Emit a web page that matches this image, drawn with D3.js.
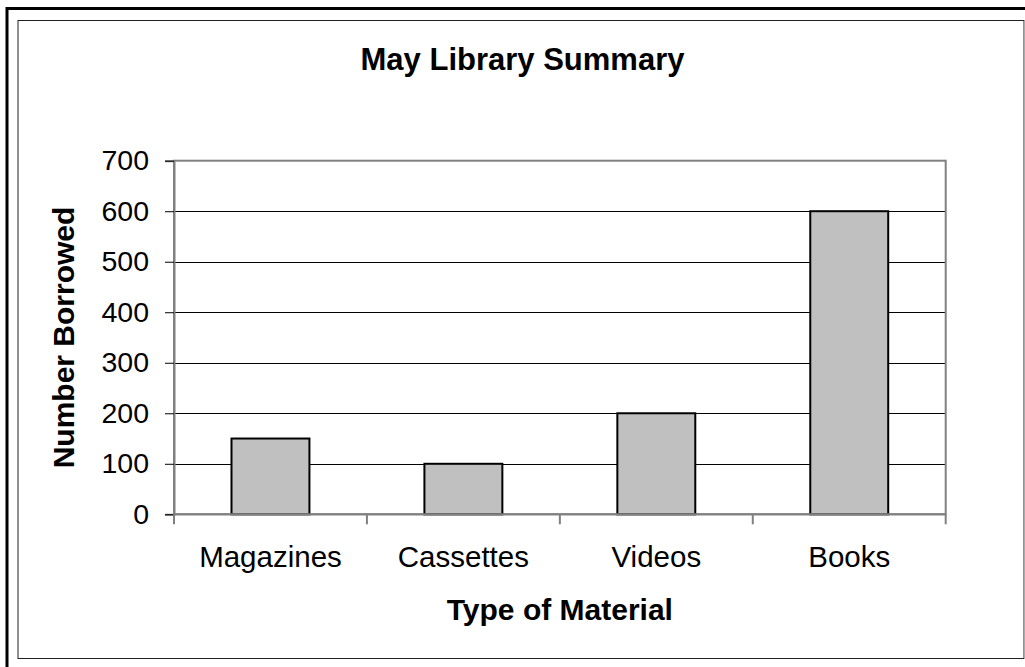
<!DOCTYPE html>
<html>
<head>
<meta charset="utf-8">
<script src="https://cdn.jsdelivr.net/npm/d3@7"></script>
<style>
  html, body { margin: 0; padding: 0; background: #fff; }
  svg { display: block; }
  text { font-family: "Liberation Sans", Arial, sans-serif; fill: #000; }
</style>
</head>
<body>
<svg id="chart" width="1025" height="667"></svg>
<script>
const categories = ["Magazines", "Cassettes", "Videos", "Books"];
const values = [150, 100, 200, 600];
const yTicks = [0, 100, 200, 300, 400, 500, 600, 700];
const title = "May Library Summary";
const xTitle = "Type of Material";
const yTitle = "Number Borrowed";

const svg = d3.select("#chart");
const W = 1025, H = 667;
const m = { left: 174, right: 945.7, top: 160.7, bottom: 514.3 };

// outer frame (only left/top visible as in the reference)
svg.append("rect").attr("x", 0).attr("y", 0).attr("width", W).attr("height", H).attr("fill", "#fff");
svg.append("line").attr("x1", 7).attr("x2", W).attr("y1", 8.5).attr("y2", 8.5).attr("stroke", "#000").attr("stroke-width", 3);
svg.append("line").attr("x1", 7).attr("x2", 7).attr("y1", 7).attr("y2", H).attr("stroke", "#000").attr("stroke-width", 3);
// inner frame
svg.append("rect").attr("x", 18).attr("y", 20.5).attr("width", 1006).attr("height", 638)
  .attr("fill", "none").attr("stroke", "#222").attr("stroke-width", 1);
svg.append("line").attr("x1", 1024.5).attr("x2", 1024.5).attr("y1", 20.5).attr("y2", 659).attr("stroke", "#aaa").attr("stroke-width", 1);

const x = d3.scaleBand().domain(categories).range([m.left, m.right]).paddingInner(0.596).paddingOuter(0.298);
const y = d3.scaleLinear().domain([0, 700]).range([m.bottom, m.top]);

// gridlines
svg.append("g").selectAll("line").data(yTicks.filter(t => t > 0 && t < 700)).join("line")
  .attr("x1", m.left).attr("x2", m.right)
  .attr("y1", d => Math.round(y(d)) + 0.5).attr("y2", d => Math.round(y(d)) + 0.5)
  .attr("stroke", "#000").attr("stroke-width", 1);

// plot frame
svg.append("rect").attr("x", m.left).attr("y", m.top).attr("width", m.right - m.left).attr("height", m.bottom - m.top)
  .attr("fill", "none").attr("stroke", "#808080").attr("stroke-width", 2);

// bars
svg.append("g").selectAll("rect").data(categories).join("rect")
  .attr("x", d => x(d)).attr("y", (d, i) => y(values[i]))
  .attr("width", x.bandwidth()).attr("height", (d, i) => y(0) - y(values[i]))
  .attr("fill", "#c0c0c0").attr("stroke", "#000").attr("stroke-width", 2);

// y axis
const yAxis = d3.axisLeft(y).tickValues(yTicks).tickSize(9).tickPadding(16);
const gy = svg.append("g").attr("transform", `translate(${m.left},0)`).call(yAxis);
gy.select(".domain").attr("stroke", "#808080").attr("stroke-width", 2);
gy.selectAll(".tick line").attr("stroke", "#000").attr("stroke-width", 1);
gy.selectAll(".tick text").attr("font-size", 28.5).attr("font-family", "Liberation Sans, Arial, sans-serif").attr("fill", "#000");

// x axis: ticks at category boundaries
const step = x.step();
const bounds = d3.range(categories.length + 1).map(i => m.left + i * step);
svg.append("g").selectAll("line").data(bounds).join("line")
  .attr("x1", d => d).attr("x2", d => d).attr("y1", m.bottom).attr("y2", m.bottom + 10)
  .attr("stroke", "#808080").attr("stroke-width", 2);
svg.append("line").attr("x1", m.left).attr("x2", m.right).attr("y1", m.bottom).attr("y2", m.bottom)
  .attr("stroke", "#808080").attr("stroke-width", 2);
svg.append("g").selectAll("text").data(categories).join("text")
  .attr("x", d => x(d) + x.bandwidth() / 2).attr("y", 566.5)
  .attr("text-anchor", "middle").attr("font-size", 29.5).text(d => d);

// titles
svg.append("text").attr("x", 522.5).attr("y", 70).attr("text-anchor", "middle")
  .attr("font-size", 31).attr("font-weight", "bold").text(title);
svg.append("text").attr("x", (m.left + m.right) / 2).attr("y", 620).attr("text-anchor", "middle")
  .attr("font-size", 30).attr("font-weight", "bold").text(xTitle);
svg.append("text").attr("transform", `translate(74,${(m.top + m.bottom) / 2}) rotate(-90)`)
  .attr("text-anchor", "middle").attr("font-size", 30).attr("font-weight", "bold").text(yTitle);
</script>
</body>
</html>
